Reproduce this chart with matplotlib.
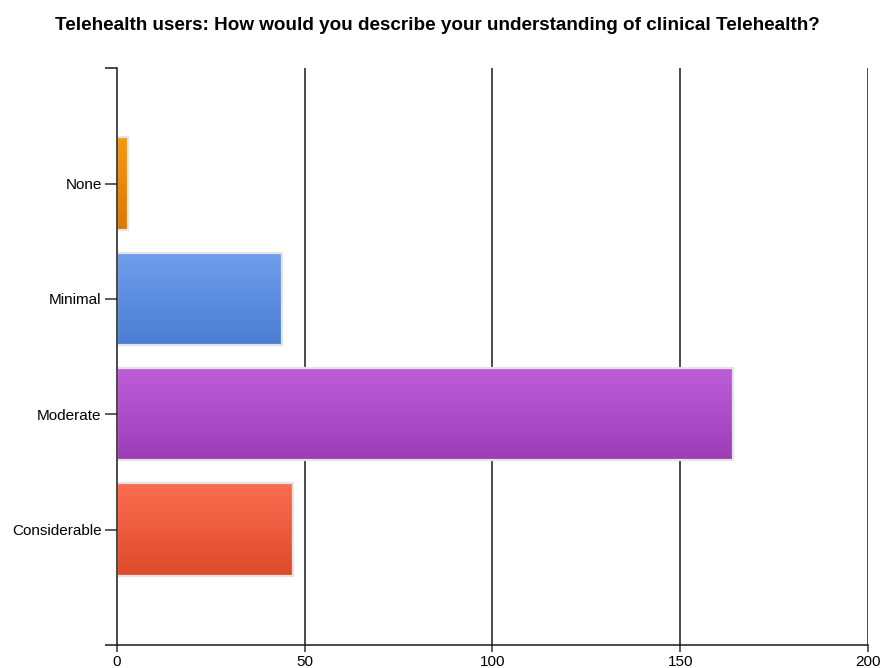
import numpy as np
import matplotlib
matplotlib.use("Agg")
import matplotlib.pyplot as plt
from matplotlib.colors import LinearSegmentedColormap
from matplotlib.ticker import FixedLocator

plt.rcParams['font.family'] = ['Liberation Sans', 'DejaVu Sans']

title = "Telehealth users: How would you describe your understanding of clinical Telehealth?"
categories = ["None", "Minimal", "Moderate", "Considerable"]
counts = [3, 44, 164, 47]
top_colors = ["#F59A12", "#709EEC", "#BE5ED8", "#FB6D50"]
bottom_colors = ["#DE7606", "#4A7DD2", "#9C3CB6", "#DE4A2B"]
x_ticks = [0, 50, 100, 150, 200]

fig = plt.figure(figsize=(8.93, 6.68), dpi=100)
ax = fig.add_axes([0.131, 0.0344, 0.841, 0.8636])

positions = np.arange(1, len(categories) + 1)
bars = ax.barh(positions, counts, height=0.8, color="none",
               edgecolor="#E4E4E4", linewidth=1.6, zorder=3)

ax.set_xlim(0, 200)
ax.set_ylim(len(categories) + 1, 0)

# vertical gradient fill for each bar
for bar, c_top, c_bot in zip(bars, top_colors, bottom_colors):
    x0, y0 = bar.get_x(), bar.get_y()
    w, h = bar.get_width(), bar.get_height()
    cmap = LinearSegmentedColormap.from_list("g", [c_top, c_bot])
    grad = np.linspace(0, 1, 256).reshape(-1, 1)
    im = ax.imshow(grad, cmap=cmap, aspect="auto",
                   extent=(x0, x0 + w, y0 + h, y0), origin="upper",
                   zorder=2, interpolation="bilinear")
    im.set_clip_path(bar)

ax.set_xlim(0, 200)
ax.set_ylim(len(categories) + 1, 0)

# vertical grid lines
for v in x_ticks[1:]:
    ax.axvline(v, color="#1a1a1a", linewidth=1.1, zorder=1)

for side in ["top", "right"]:
    ax.spines[side].set_visible(False)
for side in ["left", "bottom"]:
    ax.spines[side].set_linewidth(1.1)
    ax.spines[side].set_color("#1a1a1a")
    ax.spines[side].set_zorder(5)

ax.set_xticks(x_ticks)
ax.set_xticklabels([str(t) for t in x_ticks], fontsize=11)
ax.set_yticks(positions)
ax.set_yticklabels(categories, fontsize=11)
ax.yaxis.set_minor_locator(FixedLocator([0, len(categories) + 1]))
ax.tick_params(axis="y", which="major", length=9, width=1.1, color="#333333", pad=2)
ax.tick_params(axis="y", which="minor", length=9, width=1.1, color="#1a1a1a")
ax.tick_params(axis="x", which="major", length=5, width=1.1, color="#333333", pad=2)

fig.text(0.49, 0.962, title, ha="center", va="center",
         fontsize=13.6, fontweight="bold")

fig.savefig("out.png", dpi=100)
